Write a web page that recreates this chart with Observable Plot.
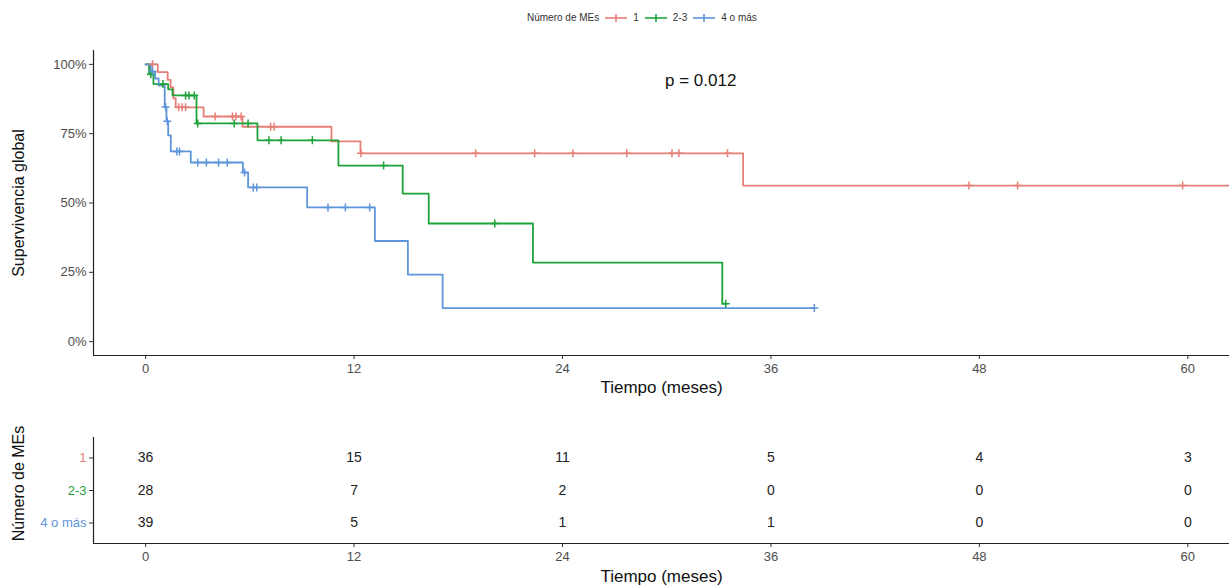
<!DOCTYPE html>
<html>
<head>
<meta charset="utf-8">
<script src="https://cdn.jsdelivr.net/npm/d3@7"></script>
<script src="https://cdn.jsdelivr.net/npm/@observablehq/plot@0.6"></script>
<style>
  html, body { margin: 0; padding: 0; background: #fff; }
  #wrap { position: relative; width: 1229px; height: 585px; overflow: hidden; font-family: "Liberation Sans", Arial, sans-serif; }
  #legend { position: absolute; left: 527px; top: 12px; display: flex; align-items: center; font-size: 10px; color: #333; white-space: nowrap; }
  #legend .item { display: flex; align-items: center; margin-left: 6px; }
  #legend svg { margin-right: 6px; }
  #km { position: absolute; left: 0; top: 35px; }
  #risk { position: absolute; left: 0; top: 400px; }
</style>
</head>
<body>
<div id="wrap">
  <div id="legend"></div>
  <div id="km"></div>
  <div id="risk"></div>
</div>
<script>
// ---------- data ----------
const groups = ["1", "2-3", "4 o más"];
const colors = ["#E57F77", "#1FA23A", "#5F95DB"];
const legendTitle = "Número de MEs";

// Kaplan–Meier step curves (time in months, survival in %)
const times1 = [0, 0.7, 1.27, 1.44, 1.6, 1.73, 3.34, 5.58, 10.7, 12.37, 34.4];
const surv1  = [100, 97.2, 94.4, 91.7, 87.7, 84.5, 81.2, 77.5, 72.2, 67.9, 56.3];
const end1 = 63;
const censor1 = [0.4, 1.9, 2.1, 2.3, 4.0, 5.0, 5.2, 5.5, 7.2, 7.4, 12.4, 19.0, 22.4, 24.6, 27.7, 30.3, 30.7, 33.5, 47.4, 50.2, 59.7];

const times2 = [0, 0.2, 0.45, 1.3, 1.55, 2.93, 6.44, 11.1, 14.8, 16.3, 22.3, 33.2];
const surv2  = [100, 96.4, 92.9, 91.0, 88.8, 78.7, 72.6, 63.5, 53.4, 42.6, 28.5, 13.7];
const end2 = 33.4;
const censor2 = [0.3, 1.0, 2.3, 2.5, 2.8, 3.0, 5.1, 5.9, 7.1, 7.8, 9.6, 13.7, 20.1, 33.4];

const times3 = [0, 0.3, 0.55, 0.75, 1.1, 1.2, 1.3, 1.45, 2.6, 5.6, 5.9, 9.3, 13.2, 15.1, 17.1];
const surv3  = [100, 97.4, 94.9, 92.3, 84.6, 79.5, 74.4, 68.6, 64.6, 61.0, 55.6, 48.4, 36.3, 24.2, 12.1];
const end3 = 38.5;
const censor3 = [0.4, 1.15, 1.25, 1.8, 1.95, 3.0, 3.5, 4.2, 4.7, 5.7, 6.2, 6.4, 10.5, 11.5, 12.9, 38.5];

// number at risk table
const riskTimes = [0, 12, 24, 36, 48, 60];
const risk1 = [36, 15, 11, 5, 4, 3];
const risk2 = [28, 7, 2, 0, 0, 0];
const risk3 = [39, 5, 1, 1, 0, 0];

const xTicks = [0, 12, 24, 36, 48, 60];
const yTicks = [0, 25, 50, 75, 100];
const pValueText = "p = 0.012";
const pValuePos = [29.9, 94];
const xLabel = "Tiempo (meses)";
const yLabel = "Supervivencia global";

// ---------- build tables ----------
const series = [
  {g: groups[0], t: times1, s: surv1, end: end1, c: censor1, n: risk1},
  {g: groups[1], t: times2, s: surv2, end: end2, c: censor2, n: risk2},
  {g: groups[2], t: times3, s: surv3, end: end3, c: censor3, n: risk3}
];
const curveData = [];
const censorData = [];
const riskData = [];
series.forEach((d, gi) => {
  d.t.forEach((t, i) => curveData.push({g: d.g, t, s: d.s[i]}));
  curveData.push({g: d.g, t: d.end, s: d.s[d.s.length - 1]});
  const valueAt = (t) => { let v = d.s[0]; d.t.forEach((tt, i) => { if (tt <= t) v = d.s[i]; }); return v; };
  d.c.forEach(t => censorData.push({g: d.g, t, s: valueAt(t)}));
  riskTimes.forEach((t, i) => riskData.push({g: d.g, row: gi, t, n: d.n[i]}));
});

const xDomain = [-3, 62.4];
const font = '"Liberation Sans", Arial, sans-serif';
const plusSymbol = {
  draw(context, size) {
    const r = Math.sqrt(size / Math.PI);
    context.moveTo(0, -r); context.lineTo(0, r);
    context.moveTo(-r, 0); context.lineTo(r, 0);
  }
};

// ---------- legend ----------
const legend = document.getElementById("legend");
const title = document.createElement("span");
title.textContent = legendTitle;
legend.appendChild(title);
groups.forEach((g, i) => {
  const item = document.createElement("span");
  item.className = "item";
  item.innerHTML = `<svg width="22" height="10"><line x1="0" x2="22" y1="5" y2="5" stroke="${colors[i]}" stroke-width="1.6"/><line x1="11" x2="11" y1="1" y2="9" stroke="${colors[i]}" stroke-width="1.6"/></svg>`;
  const lab = document.createElement("span");
  lab.textContent = g;
  item.appendChild(lab);
  legend.appendChild(item);
});

// ---------- survival plot ----------
const km = Plot.plot({
  width: 1229, height: 365,
  marginTop: 15, marginBottom: 45, marginLeft: 93, marginRight: 0,
  style: {fontFamily: font, background: "white", overflow: "visible"},
  x: {domain: xDomain},
  y: {domain: [-5, 105]},
  color: {domain: groups, range: colors},
  marks: [
    Plot.axisX({ticks: xTicks, tickSize: 4, tickPadding: 4, fontSize: 13, fill: "#4d4d4d", stroke: "#333", label: null}),
    Plot.axisY({ticks: yTicks, tickSize: 4, tickPadding: 3, fontSize: 13, fill: "#4d4d4d", stroke: "#333", tickFormat: d => d + "%", label: null}),
    Plot.ruleX([xDomain[0]], {stroke: "#222", strokeWidth: 1.2}),
    Plot.ruleY([-5], {stroke: "#222", strokeWidth: 1.2}),
    Plot.line(curveData, {x: "t", y: "s", z: "g", stroke: "g", curve: "step-after", strokeWidth: 1.8, clip: true}),
    Plot.dot(censorData, {x: "t", y: "s", stroke: "g", symbol: plusSymbol, r: 4, strokeWidth: 1.5, clip: true}),
    Plot.text([pValueText], {x: pValuePos[0], y: pValuePos[1], text: d => d, textAnchor: "start", fontSize: 17, fill: "#111"}),
    Plot.text([xLabel], {frameAnchor: "bottom", dy: 37, fontSize: 17, fill: "#111"}),
    Plot.text([yLabel], {frameAnchor: "left", textAnchor: "middle", rotate: -90, dx: -75, fontSize: 16, fill: "#111"})
  ]
});
document.getElementById("km").appendChild(km);

// ---------- risk table ----------
const risk = Plot.plot({
  width: 1229, height: 185,
  marginTop: 37, marginBottom: 42, marginLeft: 93, marginRight: 0,
  style: {fontFamily: font, background: "white", overflow: "visible"},
  x: {domain: xDomain},
  y: {domain: [2.63, -0.63]},
  color: {domain: groups, range: colors},
  marks: [
    Plot.axisX({ticks: xTicks, tickSize: 4, tickPadding: 4, fontSize: 13, fill: "#4d4d4d", stroke: "#333", label: null}),
    Plot.axisY({ticks: [0, 1, 2], tickSize: 4, tickPadding: 3, fontSize: 13, stroke: "#333", fill: d => colors[d], tickFormat: d => groups[d], label: null}),
    Plot.ruleX([xDomain[0]], {stroke: "#222", strokeWidth: 1.2}),
    Plot.ruleY([2.63], {stroke: "#222", strokeWidth: 1.2}),
    Plot.text(riskData, {x: "t", y: "row", text: "n", fontSize: 14, fill: "#222"}),
    Plot.text([xLabel], {frameAnchor: "bottom", dy: 38, fontSize: 17, fill: "#111"}),
    Plot.text([legendTitle], {frameAnchor: "left", textAnchor: "middle", rotate: -90, dx: -75, dy: -7, fontSize: 16, fill: "#111"})
  ]
});
document.getElementById("risk").appendChild(risk);
</script>
</body>
</html>
